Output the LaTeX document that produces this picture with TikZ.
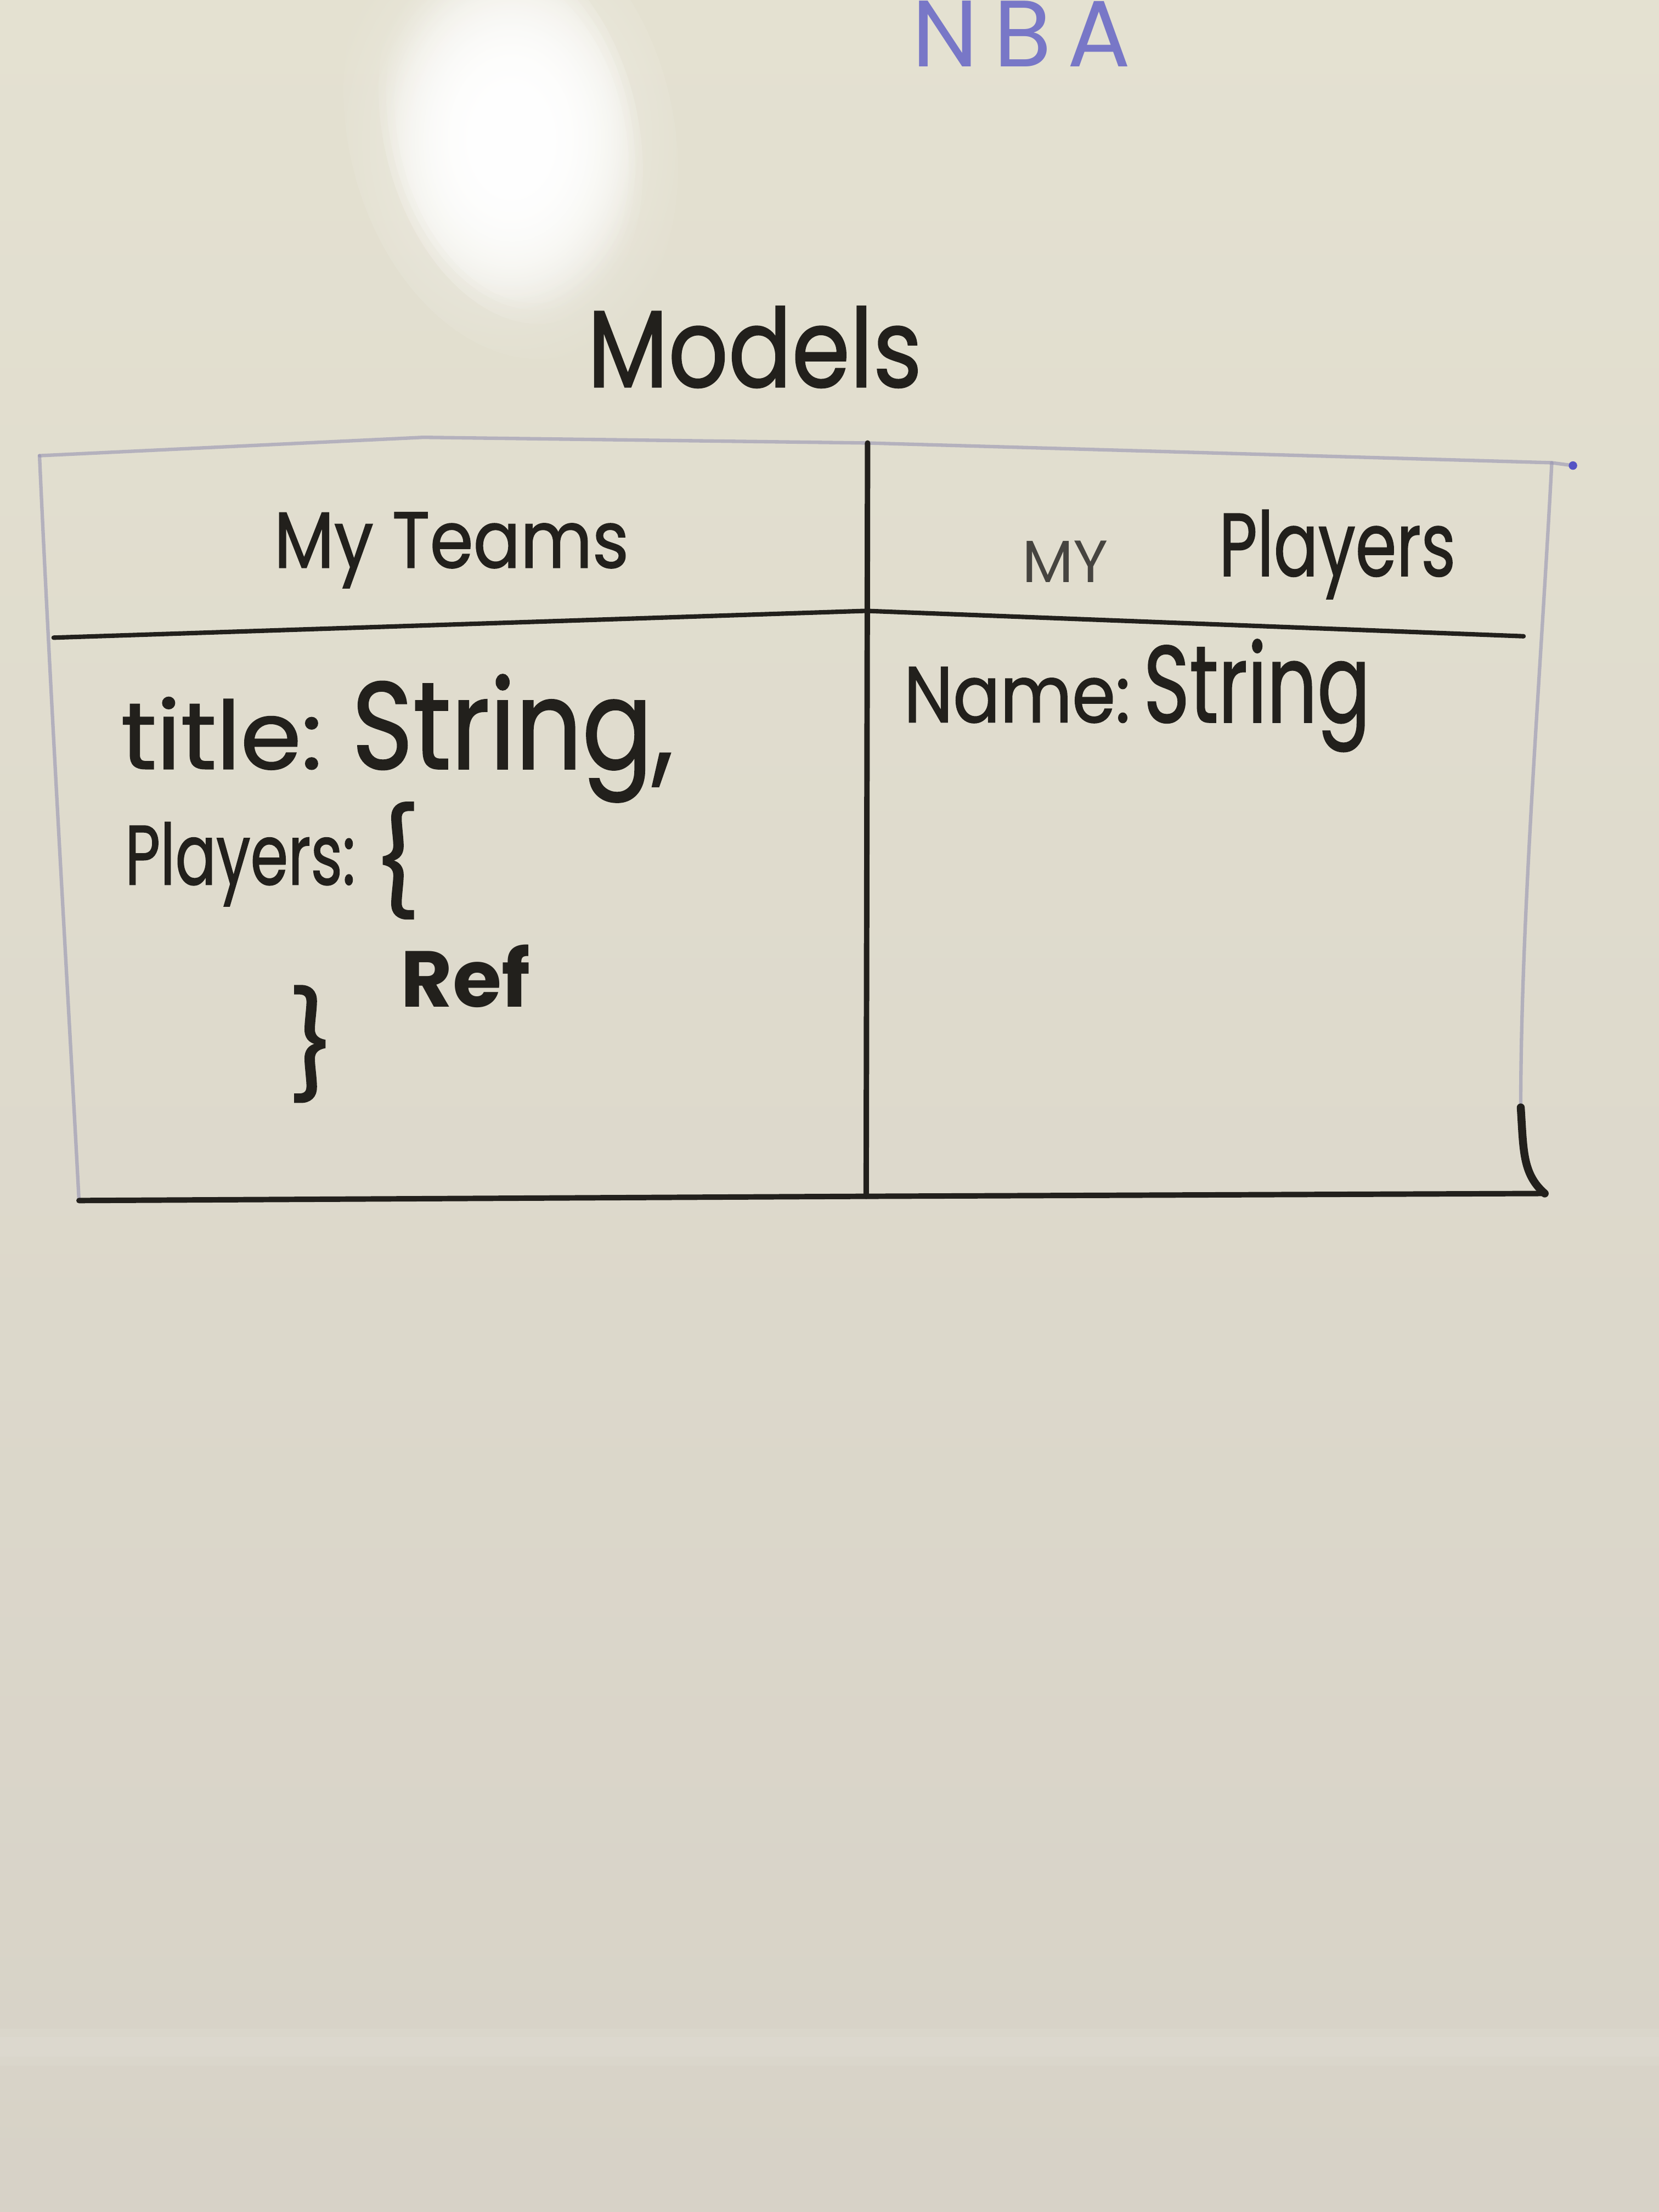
\documentclass[tikz,border=0pt]{standalone}
\usepackage{fontspec}
\setmainfont{Poppins}
\newfontfamily\markerfont{Poppins}[FakeBold=1.2]
\usetikzlibrary{fadings}

\definecolor{boardtop}{RGB}{228,225,209}
\definecolor{boardmid}{RGB}{229,228,219}
\definecolor{boardbot}{RGB}{215,210,199}
\definecolor{ink}{RGB}{34,32,28}
\definecolor{softink}{RGB}{70,68,64}
\definecolor{blueink}{RGB}{84,84,196}
\definecolor{faintink}{RGB}{150,148,178}

\tikzfading[name=glowfade, inner color=transparent!0, outer color=transparent!100]

\tikzset{
  marker/.style={draw=ink, line width=1.1pt, line cap=round, line join=round},
  faint/.style={draw=faintink, line width=0.7pt, line cap=round, opacity=0.6},
  inktext/.style={text=ink, inner sep=0pt},
  glare/.style={white, path fading=glowfade, rotate around={14:(362,92)}},
}
% narrow handwriting: squeeze a word horizontally
\newcommand{\squeeze}[2]{\scalebox{#1}[1]{#2}}

\begin{document}
\begin{tikzpicture}[x=0.01cm, y=-0.01cm]
\useasboundingbox (0,0) rectangle (1176,1568);

% whiteboard surface
\shade[top color=boardtop, middle color=boardmid, bottom color=boardbot]
  (0,0) rectangle (1176,1568);
% soft light band near the lower edge
\fill[white, opacity=0.07] (0,1438) rectangle (1176,1464);
\fill[white, opacity=0.06] (0,1444) rectangle (1176,1458);

% reflection of the ceiling light
\fill[glare, opacity=0.5] (362,92) ellipse [x radius=115, y radius=165];
\fill[glare, opacity=1] (362,92) ellipse [x radius=90, y radius=140];
\fill[glare, opacity=1] (362,92) ellipse [x radius=85, y radius=130];
\fill[glare, opacity=1] (362,95) ellipse [x radius=80, y radius=122];

% heading texts
\node[text=blueink, inner sep=0pt, opacity=0.75,
      font=\fontsize{19}{22}\selectfont] (nba) at (724,24) {N\,B\,A};
\node[inktext, font=\markerfont\fontsize{22}{25}\selectfont] (models) at (535,246)
  {\squeeze{0.86}{Models}};

% table frame
\coordinate (tl) at (28,323);
\coordinate (tm) at (300,310);
\coordinate (tc) at (615,314);
\coordinate (tr) at (1100,328);
\coordinate (tdot) at (1115,330);
\coordinate (bl) at (56,851);
\coordinate (bc) at (614,848);
\coordinate (br) at (1095,846);
\coordinate (hl) at (38,452);
\coordinate (hc) at (614,433);
\coordinate (hr) at (1080,451);
\coordinate (rk) at (1078,785);

% faint outer border
\draw[faint] (tl) -- (tm) -- (tc) -- (tr) -- (tdot);
\fill[blueink] (tdot) circle (3);
\draw[faint] (tl) .. controls (36,500) and (48,700) .. (bl);
\draw[faint] (tr) .. controls (1092,480) and (1078,650) .. (rk);

% marker lines
\draw[marker] (tc) -- (bc);
\draw[marker, line width=0.9pt] (hl) -- (hc) -- (hr);
\draw[marker] (bl) -- (bc) -- (br);
\draw[marker, line width=1.6pt] (rk) .. controls (1080,815) and (1079,832) .. (br);

% column headers
\node[inktext, font=\markerfont\fontsize{16}{19}\selectfont] (teams) at (320,390)
  {\squeeze{0.88}{My Teams}};
\node[text=softink, inner sep=0pt, font=\fontsize{12}{14}\selectfont] (my) at (755,398) {MY};
\node[inktext, font=\markerfont\fontsize{18}{21}\selectfont] (players) at (948,393)
  {\squeeze{0.74}{Players}};

% team model fields
\node[inktext, anchor=base west, font=\markerfont] (title) at (85,545)
  {{\fontsize{19}{22}\selectfont\squeeze{1.04}{title:}}\hspace{6pt}{\fontsize{25}{28}\selectfont\squeeze{0.84}{String,}}};
\node[inktext, anchor=base west, font=\markerfont\fontsize{17}{20}\selectfont] (plist) at (88,627)
  {\squeeze{0.72}{Players:}};
\node[inktext, font=\markerfont\fontsize{21}{25}\selectfont] (open) at (281,610) {\{};
\node[inktext, font=\bfseries\fontsize{16}{19}\selectfont] (ref) at (330,692) {Ref};
\node[inktext, font=\markerfont\fontsize{21}{25}\selectfont] (close) at (221,740) {\}};

% player model field
\node[inktext, anchor=base west, font=\markerfont] (name) at (640,512)
  {{\fontsize{16}{19}\selectfont\squeeze{0.88}{Name:}} {\fontsize{22}{26}\selectfont\squeeze{0.72}{String}}};
\end{tikzpicture}
\end{document}
